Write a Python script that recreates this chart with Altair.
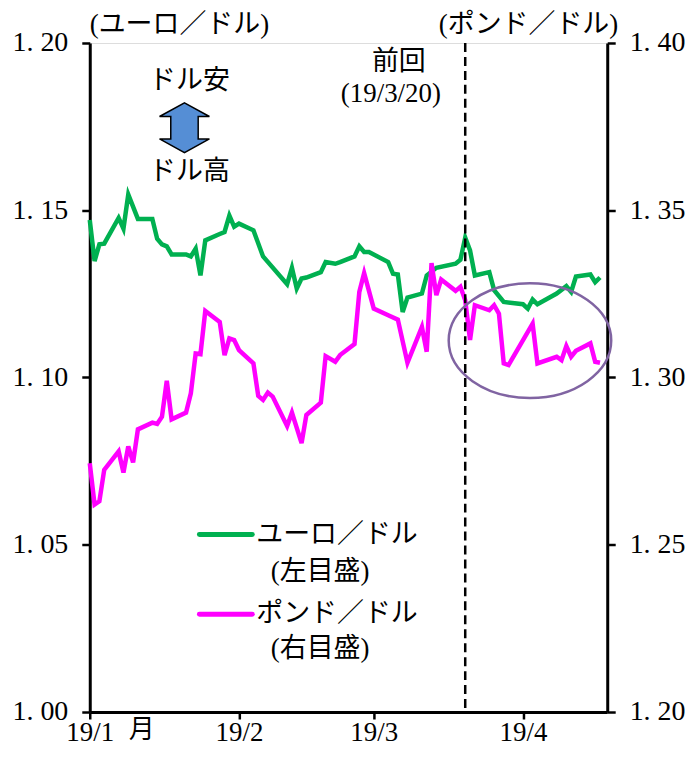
import altair as alt
import pandas as pd

# ---- data ----
eur_dates = ["2019-01-01","2019-01-02","2019-01-03","2019-01-04","2019-01-07","2019-01-08","2019-01-09",
             "2019-01-11","2019-01-14","2019-01-15","2019-01-16","2019-01-17","2019-01-18","2019-01-21",
             "2019-01-22","2019-01-23","2019-01-24","2019-01-25","2019-01-28","2019-01-29","2019-01-30",
             "2019-01-31","2019-02-01","2019-02-04","2019-02-06","2019-02-11","2019-02-12","2019-02-13",
             "2019-02-14","2019-02-15","2019-02-18","2019-02-19","2019-02-21","2019-02-22","2019-02-25",
             "2019-02-26","2019-02-27","2019-02-28","2019-03-04","2019-03-05","2019-03-06","2019-03-07",
             "2019-03-08","2019-03-11","2019-03-12","2019-03-14","2019-03-18","2019-03-19","2019-03-20",
             "2019-03-21","2019-03-22","2019-03-25","2019-03-26","2019-03-28","2019-04-01","2019-04-02",
             "2019-04-03","2019-04-04","2019-04-08","2019-04-10","2019-04-11","2019-04-12","2019-04-15",
             "2019-04-16","2019-04-17"]
eur_vals = [1.1471,1.1348,1.1398,1.1400,1.1477,1.1445,1.1547,
            1.1474,1.1474,1.1415,1.1398,1.1392,1.1368,1.1368,
            1.1362,1.1385,1.1305,1.1410,1.1429,1.1435,1.1484,
            1.1451,1.1460,1.1440,1.1362,1.1279,1.1328,1.1266,
            1.1296,1.1299,1.1315,1.1345,1.1340,1.1345,1.1362,
            1.1392,1.1375,1.1375,1.1345,1.1310,1.1308,1.1196,
            1.1239,1.1251,1.1305,1.1328,1.1340,1.1352,1.1418,
            1.1380,1.1305,1.1315,1.1261,1.1226,1.1219,1.1206,
            1.1233,1.1219,1.1251,1.1273,1.1256,1.1302,1.1308,
            1.1285,1.1299]

gbp_dates = ["2019-01-01","2019-01-02","2019-01-03","2019-01-04","2019-01-07","2019-01-08","2019-01-09",
             "2019-01-10","2019-01-11","2019-01-14","2019-01-15","2019-01-16","2019-01-17","2019-01-18",
             "2019-01-21","2019-01-22","2019-01-23","2019-01-24","2019-01-25","2019-01-28","2019-01-29",
             "2019-01-30","2019-01-31","2019-02-01","2019-02-04","2019-02-05","2019-02-06","2019-02-07",
             "2019-02-08","2019-02-11","2019-02-12","2019-02-14","2019-02-15","2019-02-18","2019-02-19",
             "2019-02-21","2019-02-22","2019-02-25","2019-02-26","2019-02-27","2019-03-01","2019-03-04",
             "2019-03-06","2019-03-08","2019-03-11","2019-03-12","2019-03-13","2019-03-14","2019-03-15",
             "2019-03-18","2019-03-19","2019-03-20","2019-03-21","2019-03-22","2019-03-25","2019-03-26",
             "2019-03-27","2019-03-28","2019-03-29","2019-04-03","2019-04-04","2019-04-08","2019-04-09",
             "2019-04-10","2019-04-11","2019-04-12","2019-04-15","2019-04-16","2019-04-17"]
gbp_vals = [1.2744,1.2620,1.2630,1.2724,1.2779,1.2716,1.2794,
            1.2746,1.2845,1.2865,1.2861,1.2883,1.2990,1.2875,
            1.2895,1.2953,1.3072,1.3070,1.3199,1.3166,1.3067,
            1.3117,1.3112,1.3082,1.3042,1.2945,1.2933,1.2955,
            1.2943,1.2855,1.2895,1.2804,1.2888,1.2925,1.3064,
            1.3047,1.3067,1.3100,1.3256,1.3312,1.3206,1.3186,
            1.3173,1.3044,1.3151,1.3077,1.3342,1.3246,1.3293,
            1.3259,1.3271,1.3231,1.3112,1.3216,1.3201,1.3216,
            1.3191,1.3042,1.3037,1.3161,1.3042,1.3062,1.3052,
            1.3094,1.3062,1.3080,1.3102,1.3047,1.3044]

left_ticks = [1.00, 1.05, 1.10, 1.15, 1.20]
right_ticks = [1.20, 1.25, 1.30, 1.35, 1.40]
prev_meeting = ["2019-03-20"]

eur = pd.DataFrame({"date": eur_dates, "v": eur_vals})
gbp = pd.DataFrame({"date": gbp_dates, "v": gbp_vals})
one = pd.DataFrame({"a": [0]})

NUMFONT = "Liberation Serif"
FONT = "Liberation Serif, Noto Sans CJK JP"
GREEN = "#00B050"
MAGENTA = "#FF00FF"

xdom = [alt.DateTime(year=2019, month=1, date=1, utc=True),
        alt.DateTime(year=2019, month=4, date=18, hours=12, utc=True)]
xticks = [alt.DateTime(year=2019, month=m, date=1, utc=True) for m in (1, 2, 3, 4)]

xenc = alt.X("date:T",
             scale=alt.Scale(type="utc", domain=xdom),
             axis=alt.Axis(values=xticks, title=None,
                           labelExpr="'19/' + utcFormat(datum.value, '%-m')",
                           labelFont=NUMFONT, labelFontSize=27, labelColor="black",
                           labelFlush=False, labelOverlap=False,
                           labelPadding=1, tickSize=7, tickWidth=2.5, tickColor="black",
                           domainColor="black", domainWidth=3, grid=False))

label_expr = "replace(format(datum.value, '.2f'), '.', '. ')"

eur_line = alt.Chart(eur).mark_line(color=GREEN, strokeWidth=4.5).encode(
    x=xenc,
    y=alt.Y("v:Q", scale=alt.Scale(domain=[1.00, 1.20], nice=False, zero=False),
            axis=alt.Axis(orient="left", values=left_ticks, title=None, labelExpr=label_expr,
                          labelFont=NUMFONT, labelFontSize=28, labelColor="black", labelPadding=14,
                          labelFlush=False,
                          tickSize=8, tickWidth=2.5, tickColor="black",
                          domainColor="black", domainWidth=3, grid=False)))

gbp_line = alt.Chart(gbp).mark_line(color=MAGENTA, strokeWidth=4.5).encode(
    x=xenc,
    y=alt.Y("v:Q", scale=alt.Scale(domain=[1.20, 1.40], nice=False, zero=False),
            axis=alt.Axis(orient="right", values=right_ticks, title=None, labelExpr=label_expr,
                          labelFont=NUMFONT, labelFontSize=28, labelColor="black", labelPadding=14,
                          labelFlush=False,
                          tickSize=8, tickWidth=2.5, tickColor="black",
                          domainColor="black", domainWidth=3, grid=False)))

rule = alt.Chart(pd.DataFrame({"date": prev_meeting})).mark_rule(
    color="black", strokeWidth=2.5, strokeDash=[9, 5]).encode(x=alt.X("date:T"))


def label(txt, x, y, align="center", size=27):
    return alt.Chart(one).mark_text(text=txt, align=align, baseline="middle", font=FONT,
                                    fontSize=size, color="black").encode(
        x=alt.value(x), y=alt.value(y))


arrow_path = ("M 0 -1 L 1 -0.45 L 0.55 -0.45 L 0.55 0.45 L 1 0.45 L 0 1 L -1 0.45 "
              "L -0.55 0.45 L -0.55 -0.45 L -1 -0.45 Z")
arrow = alt.Chart(one).mark_point(shape=arrow_path, size=2500, filled=True, fill="#558ED5",
                                  stroke="black", strokeWidth=1.5, opacity=1).encode(
    x=alt.value(95), y=alt.value(85))

ellipse_path = "M -1 0 A 1 0.706 0 1 1 1 0 A 1 0.706 0 1 1 -1 0 Z"
ellipse = alt.Chart(one).mark_point(shape=ellipse_path, size=26569, filled=False,
                                    stroke="#8064A2", strokeWidth=2.5, opacity=1).encode(
    x=alt.value(441.5), y=alt.value(298.5))

leg_g = alt.Chart(one).mark_rule(color=GREEN, strokeWidth=5, strokeCap="round").encode(
    x=alt.value(110), x2=alt.value(163), y=alt.value(493))
leg_m = alt.Chart(one).mark_rule(color=MAGENTA, strokeWidth=5, strokeCap="round").encode(
    x=alt.value(110), x2=alt.value(163), y=alt.value(573))

texts = [
    label("(ユーロ／ドル)", 0, -18, align="left", size=27),
    label("(ポンド／ドル)", 530, -18, align="right", size=27),
    label("ドル安", 100, 38),
    label("ドル高", 100, 129),
    label("前回", 310, 19),
    label("(19/3/20)", 302, 51),
    label("ユーロ／ドル", 167, 493, align="left"),
    label("(左目盛)", 231, 531),
    label("ポンド／ドル", 167, 573, align="left"),
    label("(右目盛)", 231, 608),
    label("月", 52, 689, size=26),
]

chart = alt.layer(eur_line, gbp_line, rule, ellipse, arrow, leg_g, leg_m, *texts).resolve_scale(
    y="independent"
).properties(
    width=519, height=671,
    autosize=alt.AutoSizeParams(type="none"),
    padding={"left": 82, "top": 34, "right": 78, "bottom": 36},
).configure_view(stroke="black", strokeWidth=3).configure(background="white")

chart.save("out.html", embed_options={"renderer": "svg", "actions": False})
